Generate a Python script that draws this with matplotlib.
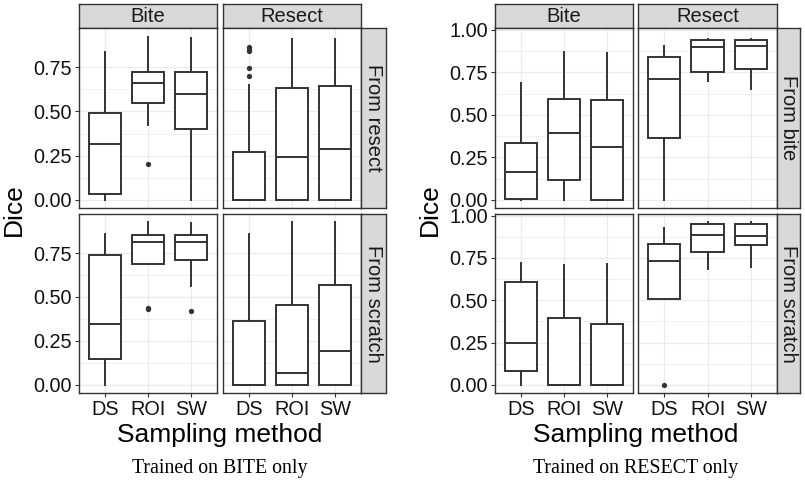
import matplotlib
matplotlib.use("Agg")
import matplotlib.pyplot as plt

plt.rcParams["font.family"] = ["Liberation Sans", "DejaVu Sans"]

# sampling methods (x categories)
methods = ["DS", "ROI", "SW"]
test_sets = ["Bite", "Resect"]

# box stats per method: [whislo, q1, median, q3, whishi]
# --- trained on BITE only ---
tb_resect_bite = [[0.0, 0.034, 0.318, 0.49, 0.839],
                  [0.422, 0.547, 0.661, 0.725, 0.919],
                  [0.0, 0.40, 0.60, 0.723, 0.913]]
tb_resect_bite_out = [[], [0.203], []]
tb_resect_resect = [[0.0, 0.0, 0.0, 0.271, 0.65],
                    [0.0, 0.0, 0.24, 0.635, 0.909],
                    [0.0, 0.0, 0.288, 0.644, 0.909]]
tb_resect_resect_out = [[0.867, 0.856, 0.843, 0.744, 0.699], [], []]
tb_scratch_bite = [[0.0, 0.146, 0.348, 0.737, 0.858],
                   [0.688, 0.688, 0.812, 0.85, 0.926],
                   [0.565, 0.712, 0.812, 0.85, 0.92]]
tb_scratch_bite_out = [[], [0.433, 0.44], [0.423]]
tb_scratch_resect = [[0.0, 0.0, 0.0, 0.363, 0.859],
                     [0.0, 0.0, 0.07, 0.452, 0.926],
                     [0.0, 0.0, 0.193, 0.567, 0.926]]
tb_scratch_resect_out = [[], [], []]

# --- trained on RESECT only ---
tr_bite_bite = [[0.0, 0.004, 0.165, 0.335, 0.684],
                [0.0, 0.117, 0.39, 0.592, 0.869],
                [0.0, 0.0, 0.308, 0.588, 0.865]]
tr_bite_bite_out = [[], [], []]
tr_bite_resect = [[0.0, 0.364, 0.711, 0.838, 0.906],
                  [0.698, 0.75, 0.896, 0.939, 0.947],
                  [0.649, 0.77, 0.902, 0.939, 0.947]]
tr_bite_resect_out = [[], [], []]
tr_scratch_bite = [[0.0, 0.082, 0.245, 0.606, 0.72],
                   [0.0, 0.0, 0.0, 0.393, 0.706],
                   [0.0, 0.0, 0.0, 0.361, 0.714]]
tr_scratch_bite_out = [[], [], []]
tr_scratch_resect = [[0.508, 0.508, 0.734, 0.83, 0.93],
                     [0.685, 0.783, 0.885, 0.95, 0.962],
                     [0.697, 0.828, 0.881, 0.95, 0.962]]
tr_scratch_resect_out = [[0.0], [], []]

W, H = 805, 483
fig = plt.figure(figsize=(W / 100, H / 100), dpi=100)
fig.patch.set_facecolor("white")

dark = "#333333"
grid_c = "#EBEBEB"


def add_ax(x0, y0, x1, y1):
    return fig.add_axes([x0 / W, 1 - y1 / H, (x1 - x0) / W, (y1 - y0) / H])


def strip(x0, y0, x1, y1, label, rot=0):
    ax = add_ax(x0, y0, x1, y1)
    ax.set_facecolor("#D9D9D9")
    ax.set_xticks([])
    ax.set_yticks([])
    for s in ax.spines.values():
        s.set_color(dark)
        s.set_linewidth(1.0)
    ax.text(0.5, 0.5, label, transform=ax.transAxes, ha="center", va="center",
            fontsize=14.5, color="#1a1a1a", rotation=rot)


def panel(box, stats, outs, ylim, yticks, show_y, show_x):
    ax = add_ax(*box)
    bstats = []
    for m, s, o in zip(methods, stats, outs):
        bstats.append(dict(whislo=s[0], q1=s[1], med=s[2], q3=s[3], whishi=s[4],
                           fliers=o, label=m))
    ax.bxp(bstats, positions=[1, 2, 3], widths=0.75, showcaps=False, patch_artist=True,
           boxprops=dict(facecolor="white", edgecolor=dark, linewidth=1.4),
           medianprops=dict(color=dark, linewidth=1.4),
           whiskerprops=dict(color=dark, linewidth=1.4),
           flierprops=dict(marker="o", markersize=3.8, markerfacecolor=dark,
                           markeredgecolor="none"),
           zorder=3)
    ax.set_xlim(0.4, 3.6)
    ax.set_ylim(*ylim)
    ax.set_yticks(yticks)
    minor = [(a + b) / 2 for a, b in zip(yticks[:-1], yticks[1:])]
    ax.set_yticks(minor, minor=True)
    ax.grid(True, which="major", color=grid_c, linewidth=0.9, zorder=0)
    ax.grid(True, which="minor", axis="y", color=grid_c, linewidth=0.5, zorder=0)
    ax.set_axisbelow(True)
    for s in ax.spines.values():
        s.set_color(dark)
        s.set_linewidth(1.0)
    ax.tick_params(which="minor", length=0)
    ax.tick_params(which="major", length=3, color=dark, labelsize=14.3,
                   labelcolor="#111111", pad=2)
    ax.set_xticks([1, 2, 3])
    if show_y:
        ax.set_yticklabels([f"{t:.2f}" for t in yticks])
    else:
        ax.tick_params(axis="y", length=0, labelleft=False)
    if show_x:
        ax.set_xticklabels(methods)
    else:
        ax.tick_params(axis="x", length=0, labelbottom=False)
    return ax


def facet_chart(cols, strip_r, rows, row_labels, data, ylim, yticks,
                dice_x, title_x, caption):
    for j, (c0, c1) in enumerate(cols):
        strip(c0, 4, c1, 28, test_sets[j])
    for i, (r0, r1) in enumerate(rows):
        for j, (c0, c1) in enumerate(cols):
            st, ou = data[i][j]
            panel((c0, r0, c1, r1), st, ou, ylim, yticks, j == 0, i == len(rows) - 1)
        strip(strip_r[0], r0, strip_r[1], r1, row_labels[i], rot=-90)
    fig.text(dice_x / W, 1 - 210 / H, "Dice", rotation=90, ha="center", va="center",
             fontsize=19)
    fig.text(title_x / W, 1 - 435 / H, "Sampling method", ha="center", va="center",
             fontsize=19)
    fig.text(title_x / W, 1 - 468 / H, caption, ha="center", va="center",
             fontsize=14.3, family=["Liberation Serif", "DejaVu Serif"])


rows = [(28, 208), (214, 393)]

facet_chart([(79, 217), (223, 361)], (361, 386), rows, ["From resect", "From scratch"],
            [[(tb_resect_bite, tb_resect_bite_out), (tb_resect_resect, tb_resect_resect_out)],
             [(tb_scratch_bite, tb_scratch_bite_out), (tb_scratch_resect, tb_scratch_resect_out)]],
            (-0.046, 0.972), [0.0, 0.25, 0.5, 0.75], 14, 220, "Trained on BITE only")

facet_chart([(495, 633), (638, 777)], (777, 800), rows, ["From bite", "From scratch"],
            [[(tr_bite_bite, tr_bite_bite_out), (tr_bite_resect, tr_bite_resect_out)],
             [(tr_scratch_bite, tr_scratch_bite_out), (tr_scratch_resect, tr_scratch_resect_out)]],
            (-0.048, 1.01), [0.0, 0.25, 0.5, 0.75, 1.0], 430, 636, "Trained on RESECT only")

fig.savefig("out.png", dpi=100, facecolor="white")
